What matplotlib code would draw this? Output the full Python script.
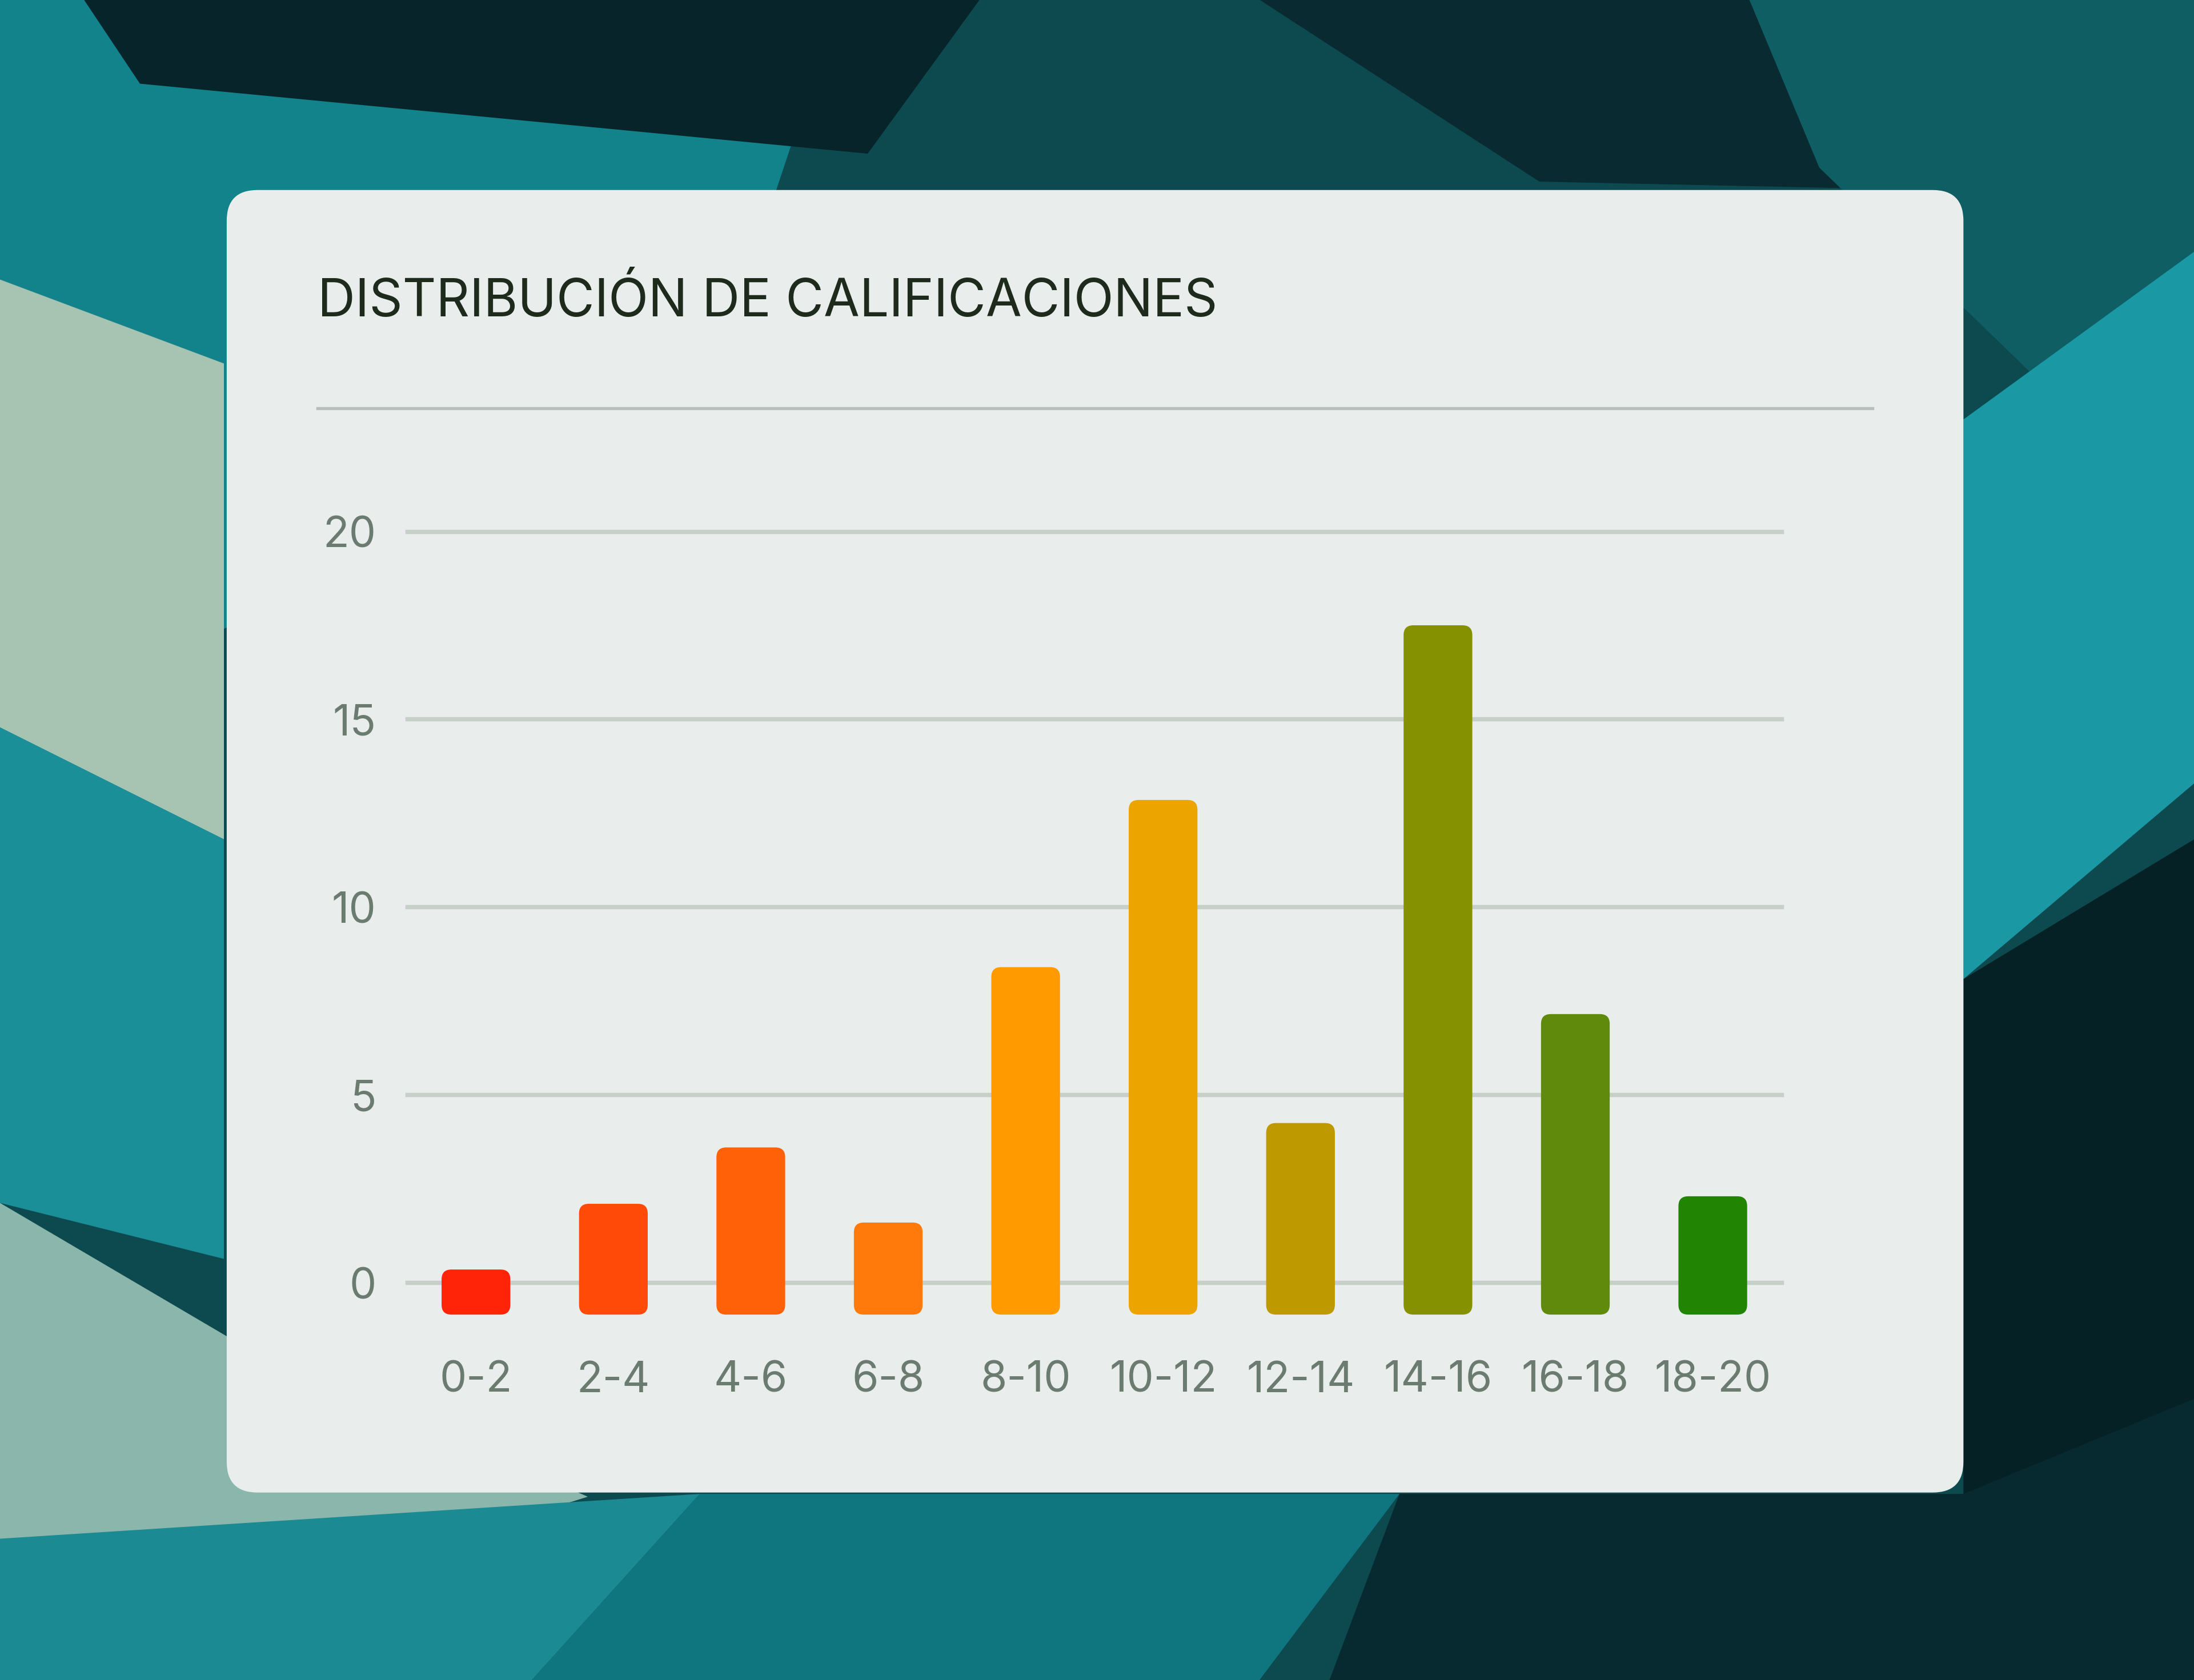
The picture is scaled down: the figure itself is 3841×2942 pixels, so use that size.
import matplotlib
matplotlib.use("Agg")
import matplotlib.pyplot as plt
from matplotlib.patches import FancyBboxPatch, Polygon
import numpy as np

plt.rcParams['font.family'] = ['Inter', 'DejaVu Sans']

categories = ["0-2", "2-4", "4-6", "6-8", "8-10", "10-12", "12-14", "14-16", "16-18", "18-20"]
counts = [0.35, 2.1, 3.6, 1.6, 8.4, 12.85, 4.25, 17.5, 7.15, 2.3]
colors = ["#ff2408", "#ff4a08", "#ff6108", "#ff7a0a", "#ff9a00", "#eca400",
          "#be9a00", "#869100", "#5f8a0b", "#218403"]
yticks = [0, 5, 10, 15, 20]

W, H = 1568, 1201
fig = plt.figure(figsize=(W / 100, H / 100), dpi=245)

def fx(x):
    return x / W

def fy(y):
    return 1 - y / H

# painted background (rough brush strokes)
bg = fig.add_axes([0, 0, 1, 1])
bg.set_xlim(0, W)
bg.set_ylim(H, 0)
bg.axis("off")
bg.add_patch(plt.Rectangle((0, 0), W, H, color="#0d4a50"))
strokes = [
    ([(0, 0), (600, 0), (500, 300), (0, 520)], "#13838b"),
    ([(0, 200), (160, 260), (160, 620), (0, 560)], "#a7c3b2"),
    ([(0, 520), (160, 600), (160, 900), (0, 860)], "#1a8f98"),
    ([(0, 860), (170, 960), (420, 1070), (0, 1201)], "#8ab6ab"),
    ([(60, 0), (700, 0), (620, 110), (100, 60)], "#06242a"),
    ([(900, 0), (1568, 0), (1568, 140), (1100, 130)], "#082a30"),
    ([(1250, 0), (1568, 0), (1568, 380), (1300, 120)], "#0f5e64"),
    ([(1403, 300), (1568, 180), (1568, 560), (1403, 700)], "#1a98a4"),
    ([(1403, 700), (1568, 600), (1568, 1201), (1403, 1201)], "#062126"),
    ([(500, 1068), (1000, 1068), (900, 1201), (380, 1201)], "#0f7680"),
    ([(1000, 1068), (1403, 1068), (1568, 1000), (1568, 1201), (950, 1201)], "#072a30"),
    ([(0, 1100), (500, 1068), (380, 1201), (0, 1201)], "#1b8a93"),
]
for pts, c in strokes:
    bg.add_patch(Polygon(pts, closed=True, color=c, lw=0))

# card
card = FancyBboxPatch((162, 136), 1241, 931, boxstyle="round,pad=0,rounding_size=22",
                      fc="#e9edec", ec="none")
bg.add_patch(card)
bg.plot([227, 1338], [292, 292], color="#b8bebb", lw=1.6)
bg.text(227, 216, "DISTRIBUCIÓN DE CALIFICACIONES", fontsize=26.8, color="#1d2a1c",
        va="center", ha="left")

# chart axes: x 291..1273 -> -0.5..9.5, y 0 at 917, 20 at 380
ppu = (917 - 380) / 20
ymin, ymax = -1.5, 21
top_px = 917 - ymax * ppu
bot_px = 917 - ymin * ppu
ax = fig.add_axes([fx(291), fy(bot_px), fx(1273) - fx(291), (bot_px - top_px) / H])
ax.set_xlim(-0.5, 9.5)
ax.set_ylim(ymin, ymax)
ax.patch.set_alpha(0)
for s in ax.spines.values():
    s.set_visible(False)

x = np.arange(len(categories))
base = -0.85
bars = ax.bar(x, np.array(counts) - base, bottom=base, width=0.5, color=colors)

# grid and rounded bars drawn in pixel space of the background axes
to_bg = ax.transData + bg.transData.inverted()
for t in yticks:
    (gx0, gy), (gx1, _) = to_bg.transform([(-0.5, t), (9.5, t)])
    bg.plot([gx0, gx1], [gy, gy], color="#c6d0c9", lw=2.2, zorder=2)
for b, c in zip(bars, colors):
    b.set_visible(False)
    (x0, y0), (x1, y1) = to_bg.transform([(b.get_x(), b.get_y()),
                                          (b.get_x() + b.get_width(), b.get_y() + b.get_height())])
    left, right = min(x0, x1), max(x0, x1)
    top, bottom = min(y0, y1), max(y0, y1)
    bg.add_patch(FancyBboxPatch((left, top), right - left, bottom - top,
                                boxstyle="round,pad=0,rounding_size=7",
                                fc=c, ec="none", zorder=3))

ax.set_yticks(yticks)
ax.set_yticklabels([str(t) for t in yticks])
ax.set_xticks(x)
ax.set_xticklabels(categories)
ax.tick_params(axis="both", length=0, labelsize=22, colors="#6b7b6f")
ax.tick_params(axis="y", pad=16)
ax.tick_params(axis="x", pad=11)

fig.savefig("out.png", dpi=245)
